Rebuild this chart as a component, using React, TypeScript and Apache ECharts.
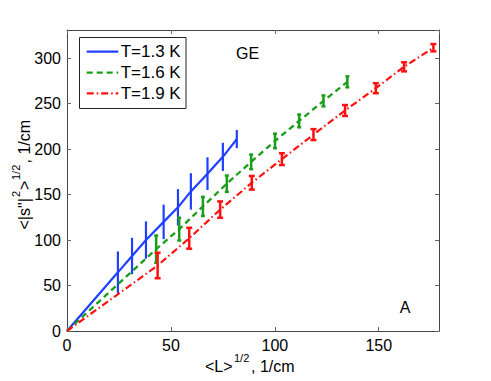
import React, { useEffect, useRef } from 'react';
import * as echarts from 'echarts';

const seriesNames = ['T=1.3 K', 'T=1.6 K', 'T=1.9 K'];

const blueX = [24.5, 31.3, 38.0, 46.5, 53.4, 59.6, 67.6, 75.0, 81.7];
const blueY = [64.5, 82.5, 100, 120, 136, 153.5, 173, 191.5, 211];
const blueErr = [23, 20, 20.5, 19, 20, 20, 18, 15.5, 10];

const greenX = [42.9, 54.0, 65.4, 76.9, 88.6, 100.1, 111.7, 123.4, 134.9];
const greenY = [90, 112, 137, 162, 186, 209, 231, 253, 274];
const greenErr = [15, 12.5, 10.5, 9, 8, 8, 7, 6, 6];

const redX = [43.6, 58.8, 73.7, 88.9, 103.4, 118.6, 133.8, 148.6, 162.2, 176.3];
const redY = [72, 102, 133.5, 163, 189, 216, 242.5, 267, 290.5, 311.5];
const redErr = [14, 11.5, 9, 7.5, 6.5, 6, 6, 5.5, 5, 4];

const xTicks = [0, 50, 100, 150];
const yTicks = [0, 50, 100, 150, 200, 250, 300];

const FONT = '"Liberation Sans", Arial, Helvetica, sans-serif';
const BLUE = '#2040ff';
const GREEN = '#1a9e1a';
const RED = '#ff1010';
const COLORS = [BLUE, GREEN, RED];
const DASHES: any[] = [null, [6, 4], [7, 3, 1.5, 3]];
const WIDTHS = [2.2, 2.3, 2.2];

function lineSeries(name: string, xs: number[], ys: number[], color: string, width: number, type: any) {
  return {
    type: 'line',
    name,
    data: [[0, 0], ...xs.map((x, i) => [x, ys[i]])],
    symbol: 'none',
    lineStyle: { color, width, type },
    itemStyle: { color },
    z: 4,
    silent: true,
  };
}

function errSeries(name: string, xs: number[], ys: number[], errs: number[], color: string, cap: number, width: number) {
  return {
    type: 'custom',
    name,
    data: xs.map((x, i) => [x, ys[i] - errs[i], ys[i] + errs[i]]),
    encode: { x: 0, y: [1, 2] },
    z: 3,
    silent: true,
    renderItem: (params: any, api: any) => {
      const x = api.value(0);
      const lo = api.value(1);
      const hi = api.value(2);
      const p1 = api.coord([x, hi]);
      const p2 = api.coord([x, lo]);
      const style = { stroke: color, lineWidth: width };
      const children: any[] = [
        { type: 'line', shape: { x1: p1[0], y1: p1[1], x2: p2[0], y2: p2[1] }, style },
      ];
      if (cap > 0) {
        children.push({ type: 'line', shape: { x1: p1[0] - cap, y1: p1[1], x2: p1[0] + cap, y2: p1[1] }, style });
        children.push({ type: 'line', shape: { x1: p2[0] - cap, y1: p2[1], x2: p2[0] + cap, y2: p2[1] }, style });
      }
      return { type: 'group', children };
    },
  };
}

function txt(text: string, x: number, y: number, size: number, align = 'left') {
  return {
    type: 'text',
    x,
    y,
    style: { text, font: `${size}px ${FONT}`, fill: '#000', align, verticalAlign: 'middle' },
  };
}

export default function App() {
  const ref = useRef<HTMLDivElement>(null);
  useEffect(() => {
    document.body.style.margin = '0';
    const chart = echarts.init(ref.current!, null, { renderer: 'svg' });
    const axisLineStyle = { color: '#444', width: 1 };
    const tickStyle = { color: '#666', width: 1 };
    const baseX = {
      type: 'value',
      min: 0,
      max: 179,
      interval: 50,
      splitLine: { show: false },
      axisLine: { show: true, onZero: false, lineStyle: axisLineStyle },
      axisTick: { show: true, inside: true, length: 4, lineStyle: tickStyle },
    };
    const baseY = {
      type: 'value',
      min: 0,
      max: 331,
      interval: 50,
      splitLine: { show: false },
      axisLine: { show: true, onZero: false, lineStyle: axisLineStyle },
      axisTick: { show: true, inside: true, length: 4, lineStyle: tickStyle },
    };
    const labelStyle = { fontFamily: FONT, fontSize: 16, color: '#000' };

    // legend drawn from the series names and styles
    const legendLeft = 79.5;
    const legendTop = 37.5;
    const rowYs = [51.7, 72.7, 93.3];
    const legendChildren: any[] = [
      {
        type: 'rect',
        shape: { x: legendLeft, y: legendTop, width: 106.5, height: 71 },
        style: { fill: '#fff', stroke: '#222', lineWidth: 1 },
      },
    ];
    seriesNames.forEach((name, i) => {
      legendChildren.push({
        type: 'line',
        shape: { x1: 86.7, y1: rowYs[i], x2: 118.3, y2: rowYs[i] },
        style: { stroke: COLORS[i], lineWidth: WIDTHS[i], lineDash: DASHES[i] || undefined },
      });
      legendChildren.push(txt(name, 120.7, rowYs[i], 17));
    });

    // x axis title: <L>^{1/2}, 1/cm
    const xt0 = 205;
    const xBase = 366;
    const xTitle = [
      txt('<L>', xt0, xBase, 16),
      txt('1/2', xt0 + 29, xBase - 8.5, 11),
      txt(', 1/cm', xt0 + 46, xBase, 16),
    ];

    // y axis title, rotated: <|s"|^2>^{1/2}, 1/cm
    const yTitle = {
      type: 'group',
      x: 24,
      y: 229.5,
      rotation: Math.PI / 2,
      children: [
        txt('<|s"|', 0, 0, 16),
        txt('2', 32.5, -8.5, 11),
        txt('>', 39.5, 0, 16),
        txt('1/2', 49.5, -8.5, 11),
        txt(', 1/cm', 66, 0, 16),
      ],
    };

    chart.setOption({
      animation: false,
      backgroundColor: '#fff',
      grid: { left: 67, top: 30, right: 52, bottom: 50, containLabel: false },
      xAxis: [
        {
          ...baseX,
          position: 'bottom',
          axisLabel: {
            ...labelStyle,
            margin: 6,
            showMaxLabel: false,
            formatter: (v: number) => (xTicks.includes(v) ? String(v) : ''),
          },
        },
        { ...baseX, position: 'top', axisLabel: { show: false } },
      ],
      yAxis: [
        {
          ...baseY,
          position: 'left',
          axisLabel: {
            ...labelStyle,
            margin: 6,
            showMaxLabel: false,
            formatter: (v: number) => (yTicks.includes(v) ? String(v) : ''),
          },
        },
        { ...baseY, position: 'right', axisLabel: { show: false } },
      ],
      series: [
        errSeries('err1', blueX, blueY, blueErr, BLUE, 0, 2.2),
        errSeries('err2', greenX, greenY, greenErr, GREEN, 2, 2.5),
        errSeries('err3', redX, redY, redErr, RED, 3, 2.5),
        lineSeries(seriesNames[0], blueX, blueY, BLUE, WIDTHS[0], 'solid'),
        lineSeries(seriesNames[1], greenX, greenY, GREEN, WIDTHS[1], DASHES[1]),
        lineSeries(seriesNames[2], redX, redY, RED, WIDTHS[2], DASHES[2]),
      ],
      graphic: [
        { type: 'group', children: legendChildren, z: 10 },
        txt('GE', 236, 53.5, 16),
        txt('A', 405, 307.5, 16, 'center'),
        { type: 'group', children: xTitle },
        yTitle,
      ],
    });
    return () => chart.dispose();
  }, []);
  return <div ref={ref} style={{ width: 491, height: 381, position: 'absolute', left: 0, top: 0 }} />;
}
